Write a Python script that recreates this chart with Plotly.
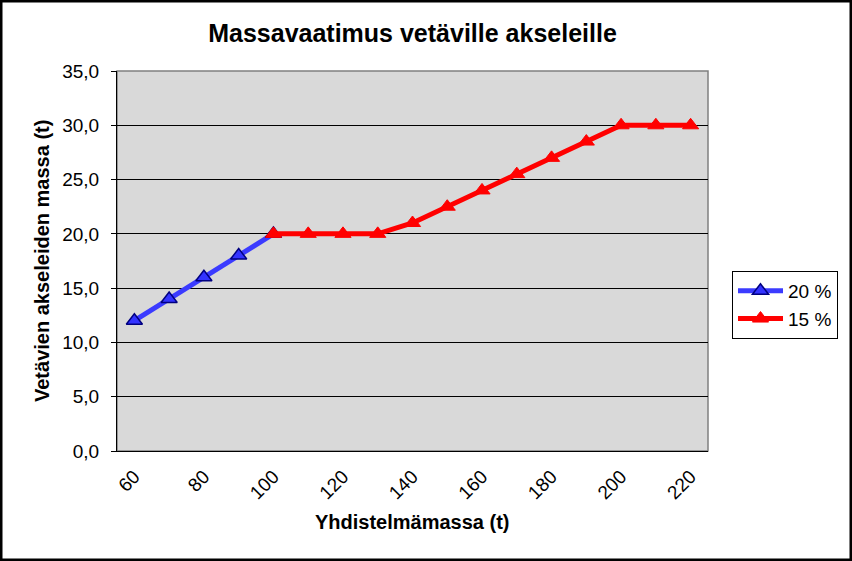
import plotly.graph_objects as go

x_blue = [60, 70, 80, 90, 100]
y_blue = [12, 14, 16, 18, 20]
x_red = [100, 110, 120, 130, 140, 150, 160, 170, 180, 190, 200, 210, 220]
y_red = [20, 20, 20, 20, 21, 22.5, 24, 25.5, 27, 28.5, 30, 30, 30]
x_ticks = [60, 80, 100, 120, 140, 160, 180, 200, 220]
y_ticks = [0, 5, 10, 15, 20, 25, 30, 35]
y_ticktext = [f"{v:.1f}".replace(".", ",") for v in y_ticks]

FONT = "Liberation Sans, Arial, sans-serif"
L, R, T, B = 117, 144, 71, 110
W, H = 852, 561
PW, PH = W - L - R, H - T - B

fig = go.Figure()
fig.add_trace(go.Scatter(
    x=x_blue, y=y_blue, name="20 %", mode="lines+markers",
    line=dict(color="#3B3BFF", width=5),
    marker=dict(symbol="triangle-up", size=14, color="#3333FF",
                line=dict(color="#000080", width=1.5)),
))
fig.add_trace(go.Scatter(
    x=x_red, y=y_red, name="15 %", mode="lines+markers",
    line=dict(color="#FF0000", width=5),
    marker=dict(symbol="triangle-up", size=14, color="#FF0000",
                line=dict(color="#FF0000", width=1)),
))

fig.update_layout(
    width=W, height=H,
    paper_bgcolor="white", plot_bgcolor="#D9D9D9",
    margin=dict(l=L, r=R, t=T, b=B),
    font=dict(family=FONT, color="black", size=19),
    title=dict(text="<b>Massavaatimus vetäville akseleille</b>",
               x=0.5, xref="paper", xanchor="center", y=1 - 33 / H, yanchor="middle",
               font=dict(size=25, family=FONT)),
    showlegend=True,
    legend=dict(x=(732 - L) / PW, y=(H - B - 271) / PH, xanchor="left", yanchor="top",
                bordercolor="black", borderwidth=1, bgcolor="white",
                font=dict(size=19, family=FONT), tracegroupgap=6, itemwidth=45),
    xaxis=dict(range=[55, 225], tickvals=x_ticks, tickangle=-45,
               showgrid=False, zeroline=False,
               showline=True, linecolor="black", linewidth=1,
               ticks="", ticklabelstandoff=6, tickfont=dict(size=19)),
    yaxis=dict(range=[0, 35], tickvals=y_ticks, ticktext=y_ticktext,
               showgrid=True, gridcolor="black", gridwidth=1, zeroline=False,
               showline=True, linecolor="black", linewidth=1,
               ticks="outside", ticklen=5, tickcolor="black",
               ticklabelstandoff=8, tickfont=dict(size=19)),
    annotations=[
        dict(text="<b>Yhdistelmämassa (t)</b>", xref="paper", yref="paper",
             x=0.5, y=-(522 - (H - B)) / PH, xanchor="center", yanchor="middle",
             showarrow=False, font=dict(size=20, family=FONT)),
        dict(text="<b>Vetävien akseleiden massa (t)</b>", xref="paper", yref="paper",
             x=-(L - 42) / PW, y=0.5, xanchor="center", yanchor="middle", textangle=-90,
             showarrow=False, font=dict(size=20, family=FONT)),
    ],
    shapes=[
        dict(type="rect", xref="paper", yref="paper", x0=0, y0=0, x1=1, y1=1,
             line=dict(color="#808080", width=1.5), layer="below"),
        dict(type="rect", xref="paper", yref="paper",
             x0=-(L - 1) / PW, y0=-(B - 1) / PH, x1=(W - L - 1) / PW, y1=(H - B - 1) / PH,
             line=dict(color="black", width=3)),
    ],
)

fig.write_html("out.html", config={"displayModeBar": False},
               post_script="document.body.style.margin='0';document.body.style.overflow='hidden';")
